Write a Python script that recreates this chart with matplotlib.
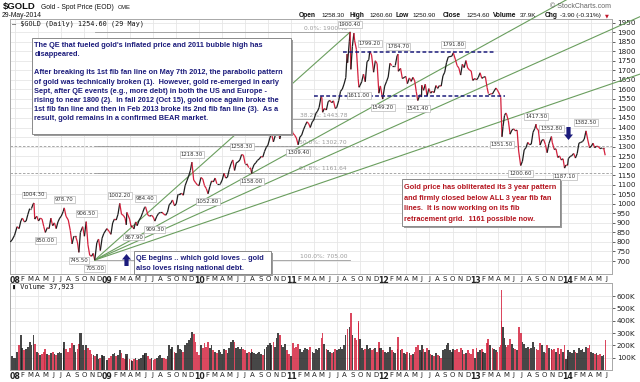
import datetime as dt
import numpy as np
import matplotlib
matplotlib.use("Agg")
from matplotlib import pyplot as plt
import matplotlib.dates as mdates
from matplotlib.collections import LineCollection
from matplotlib.patches import Rectangle, FancyArrow
from matplotlib.transforms import IdentityTransform

W, H = 640, 382

DAYS_07 = "12-14 12-21 12-31".split()
CLOSE_07 = [800, 810, 835]
VOL_07 = [95, 110, 100]

DAYS_08 = ("01-10 01-18 01-25 01-31 02-08 02-15 02-22 02-29 03-07 03-14 03-17 03-20 03-28 "
           "04-04 04-11 04-18 04-25 05-01 05-09 05-16 05-23 05-30 06-06 06-13 06-20 06-27 "
           "07-03 07-11 07-15 07-22 07-31 08-08 08-15 08-22 08-29 09-05 09-11 09-17 09-26 "
           "10-03 10-10 10-17 10-24 10-31 11-07 11-13 11-21 11-28 12-05 12-12 12-19 12-31").split()
CLOSE_08 = [880, 870, 910, 925, 905, 910, 945, 975, 975, 1000, 1004.3, 920, 935,
            910, 925, 920, 880, 850, 875, 870, 925, 885, 900, 870, 905, 925,
            935, 960, 978.7, 935, 915, 860, 790, 830, 830, 800, 745.5, 850, 880,
            830, 906.5, 785, 730, 725, 740, 705, 795, 815, 755, 820, 845, 870]
VOL_08 = [150, 200, 280, 180, 160, 170, 190, 230, 200, 280, 250, 210, 150,
          140, 120, 130, 150, 170, 130, 120, 140, 150, 130, 120, 140, 150,
          140, 180, 230, 170, 150, 180, 220, 200, 150, 170, 210, 300, 200,
          160, 200, 180, 160, 130, 120, 110, 130, 90, 100, 120, 110, 80]

DAYS_09 = ("01-09 01-16 01-23 01-30 02-06 02-13 02-20 02-27 03-06 03-13 03-18 03-20 03-31 "
           "04-06 04-10 04-17 04-24 04-30 05-08 05-15 05-22 05-29 06-02 06-12 06-19 06-26 "
           "07-03 07-09 07-17 07-24 07-31 08-07 08-14 08-21 08-28 09-04 09-11 09-17 09-25 "
           "10-02 10-09 10-16 10-23 10-30 11-06 11-13 11-20 11-27 12-03 12-10 12-18 12-24 12-31").split()
CLOSE_09 = [855, 840, 900, 920, 915, 945, 1002.2, 945, 940, 925, 890, 955, 920,
            880, 885, 867.9, 905, 885, 915, 930, 955, 980, 984.4, 940, 935, 940,
            930, 909.3, 935, 950, 955, 955, 945, 940, 955, 995, 1005, 1020, 990,
            1000, 1050, 1050, 1055, 1045, 1095, 1120, 1145, 1175, 1218.3, 1125, 1110, 1100, 1095]
VOL_09 = [100, 110, 130, 140, 110, 120, 160, 140, 100, 90, 110, 130, 90,
          80, 70, 90, 100, 80, 90, 100, 120, 130, 140, 110, 90, 100,
          80, 90, 100, 110, 120, 100, 100, 90, 110, 200, 170, 190, 150,
          140, 200, 170, 160, 150, 200, 220, 240, 260, 310, 290, 230, 150, 120]

DAYS_10 = ("01-08 01-15 01-22 01-29 02-05 02-12 02-19 02-26 03-05 03-12 03-19 03-26 "
           "04-02 04-09 04-16 04-23 04-30 05-07 05-14 05-21 05-28 06-04 06-11 06-18 06-25 "
           "07-02 07-09 07-16 07-23 07-28 07-30 08-06 08-13 08-20 08-27 09-03 09-10 09-17 09-24 09-30 "
           "10-08 10-14 10-22 10-29 11-05 11-09 11-16 11-23 11-30 12-07 12-14 12-21 12-31").split()
CLOSE_10 = [1138, 1130, 1095, 1080, 1052.8, 1090, 1120, 1115, 1135, 1105, 1105, 1105,
            1125, 1160, 1135, 1140, 1180, 1210, 1230, 1175, 1215, 1220, 1230, 1258.3, 1255,
            1210, 1210, 1190, 1190, 1158, 1180, 1205, 1215, 1228, 1235, 1248, 1245, 1275, 1297, 1307,
            1345, 1370, 1325, 1357, 1395, 1421, 1340, 1375, 1385, 1410, 1395, 1385, 1420]
VOL_10 = [200, 180, 220, 190, 230, 180, 200, 160, 150, 140, 160, 150,
          130, 170, 160, 140, 180, 230, 240, 230, 180, 190, 170, 190, 170,
          160, 140, 150, 140, 170, 150, 140, 130, 140, 150, 130, 120, 170, 190, 200,
          220, 200, 230, 190, 260, 300, 280, 200, 190, 210, 160, 130, 110]

DAYS_11 = ("01-07 01-14 01-21 01-28 02-04 02-11 02-18 02-25 03-04 03-11 03-17 03-25 03-31 "
           "04-08 04-15 04-21 04-29 05-02 05-05 05-12 05-20 05-27 06-03 06-10 06-17 06-24 06-30 "
           "07-08 07-15 07-22 07-29 08-05 08-10 08-12 08-19 08-22 08-25 08-31 09-06 09-09 09-16 "
           "09-23 09-26 09-30 10-07 10-14 10-21 10-28 11-04 11-08 11-15 11-23 11-30 "
           "12-07 12-14 12-20 12-29").split()
CLOSE_11 = [1370, 1360, 1345, 1309.4, 1350, 1360, 1388, 1410, 1430, 1420, 1400, 1430, 1439,
            1474, 1486, 1505, 1563, 1557, 1480, 1500, 1492, 1536, 1542, 1530, 1540, 1500, 1505,
            1542, 1590, 1601, 1628, 1662, 1785, 1740, 1852, 1900.4, 1705, 1825, 1895, 1855, 1810,
            1655, 1611.0, 1620, 1640, 1680, 1640, 1745, 1755, 1799.2, 1780, 1690, 1750,
            1735, 1580, 1618, 1549.2]
VOL_11 = [220, 180, 190, 210, 170, 150, 160, 180, 170, 160, 190, 150, 140,
          170, 160, 180, 230, 260, 300, 210, 170, 160, 150, 140, 150, 170, 160,
          170, 190, 170, 200, 280, 360, 330, 350, 430, 460, 280, 300, 260, 240,
          400, 380, 250, 180, 160, 170, 200, 170, 180, 160, 170, 180,
          150, 230, 180, 160]

DAYS_12 = ("01-06 01-13 01-20 01-27 02-03 02-10 02-17 02-24 02-28 02-29 03-09 03-16 03-23 03-30 "
           "04-05 04-13 04-20 04-27 05-04 05-10 05-16 05-25 05-31 06-01 06-08 06-15 06-22 06-29 "
           "07-06 07-13 07-20 07-27 08-03 08-10 08-17 08-24 08-31 09-07 09-14 09-21 09-28 "
           "10-04 10-12 10-19 10-26 11-02 11-09 11-16 11-23 11-30 12-07 12-14 12-20 12-28").split()
CLOSE_12 = [1617, 1640, 1665, 1737, 1725, 1725, 1725, 1775, 1784.7, 1695, 1710, 1657, 1662, 1668,
            1630, 1660, 1642, 1663, 1645, 1590, 1541.4, 1572, 1560, 1622, 1595, 1627, 1565, 1604,
            1580, 1590, 1583, 1620, 1605, 1620, 1617, 1671, 1690, 1740, 1770, 1772, 1774,
            1791.8, 1758, 1725, 1712, 1675, 1732, 1714, 1751, 1712, 1702, 1696, 1647, 1657]
VOL_12 = [150, 140, 150, 190, 160, 150, 140, 170, 180, 270, 160, 170, 140, 130,
          150, 140, 120, 130, 150, 190, 200, 160, 150, 200, 170, 150, 180, 160,
          130, 120, 110, 140, 120, 110, 100, 160, 170, 200, 220, 160, 150,
          170, 160, 170, 150, 180, 160, 130, 140, 160, 140, 130, 170, 100]

DAYS_13 = ("01-04 01-11 01-18 01-25 01-31 02-08 02-15 02-20 02-28 03-08 03-15 03-22 03-28 "
           "04-05 04-10 04-12 04-15 04-19 04-25 04-30 05-03 05-10 05-17 05-24 05-31 "
           "06-07 06-14 06-20 06-28 07-05 07-12 07-19 07-26 08-02 08-09 08-16 08-23 08-28 08-30 "
           "09-06 09-13 09-20 09-27 10-04 10-11 10-18 10-28 10-31 11-08 11-15 11-22 11-29 "
           "12-06 12-13 12-19 12-24 12-31").split()
CLOSE_13 = [1650, 1662, 1687, 1658, 1663, 1667, 1609, 1578, 1578, 1576, 1592, 1607, 1596,
            1575, 1558, 1476, 1351.5, 1405, 1463, 1476, 1470, 1437, 1365, 1386, 1393,
            1383, 1386, 1277, 1200.6, 1223, 1283, 1294, 1322, 1310, 1313, 1375, 1395, 1417.5, 1396,
            1387, 1308, 1333, 1337, 1311, 1268, 1316, 1352.8, 1323, 1285, 1288, 1243, 1251,
            1230, 1236, 1187.1, 1203, 1202]
VOL_13 = [180, 150, 160, 170, 150, 140, 220, 250, 200, 180, 170, 160, 150,
          190, 200, 400, 650, 350, 260, 200, 190, 200, 250, 210, 180,
          170, 160, 350, 300, 230, 210, 180, 190, 170, 180, 230, 190, 200, 170,
          160, 220, 200, 150, 140, 200, 180, 170, 160, 170, 150, 180, 130,
          170, 150, 200, 90, 110]

DAYS_14 = ("01-03 01-10 01-17 01-24 01-31 02-07 02-14 02-21 02-28 03-07 03-14 03-21 03-28 "
           "04-04 04-11 04-17 04-25 05-02 05-09 05-16 05-23 05-29").split()
CLOSE_14 = [1237, 1248, 1253, 1264, 1240, 1263, 1318, 1322, 1326, 1339, 1382.5, 1335, 1294,
            1302, 1318, 1294, 1302, 1300, 1289, 1293, 1293, 1254.6]
VOL_14 = [160, 150, 140, 160, 150, 140, 180, 160, 170, 150, 190, 180, 200,
          150, 140, 130, 140, 120, 130, 110, 120, 240]

# labelled swing highs / lows
SWING_LABELS = [1004.3, 850.0, 978.7, 745.5, 906.5, 705.0, 1002.2, 867.9, 984.4, 909.3,
                1218.3, 1052.8, 1258.3, 1158.0, 1309.4, 1900.4, 1611.0, 1799.2, 1549.2,
                1784.7, 1541.4, 1791.8, 1351.5, 1200.6, 1417.5, 1352.8, 1187.1, 1382.5]

# fibonacci retracement grid (705.00 low -> 1900.40 high)
FIB_PCT = ["0.0%", "38.2%", "50.0%", "61.8%", "100.0%"]
FIB_PRICE = [1900.40, 1443.78, 1302.70, 1161.64, 705.00]
FIB_EXTENDED = ["50.0%", "61.8%"]

# 3-year trading range drawn in blue
RANGE_LEVELS = [1796, 1567]
RANGE_START = [dt.date(2011, 7, 26), dt.date(2011, 4, 2)]
RANGE_END = [dt.date(2013, 3, 19), dt.date(2013, 4, 28)]

HEADER_KEYS = ["Open", "High", "Low", "Close", "Volume", "Chg"]
HEADER_VALS = ["1258.30", "1260.60", "1250.90", "1254.60", "37.9K", "-3.90 (-0.31%)"]

NOTE_QE = ["The QE that fueled gold's inflated price and 2011 bubble high has",
           "disappeared.",
           "After breaking its 1st fib fan line on May 7th 2012, the parabolic pattern",
           "of gold was technically broken (1).  However, gold re-emerged in early",
           "Sept, after QE events (e.g., more debt) in both the US and Europe -",
           "rising to near 1800 (2).  In fall 2012 (Oct 15), gold once again broke the",
           "1st fib fan line and then in Feb 2013 broke its 2nd fib fan line (3).  As a",
           "result, gold remains in a confirmed BEAR market."]
NOTE_RED = ["Gold price has obliterated its 3 year pattern",
            "and firmly closed below ALL 3 year fib fan",
            "lines.  It is now working on its fib",
            "retracement grid.  1161 possible now."]
NOTE_START = ["QE begins .. which gold loves .. gold",
              "also loves rising national debt."]

RED = "#d3203c"
BLACK = "#1e1e1e"
NAVY = "#1c1c7c"
DARKRED = "#b4141e"
GREEN = "#6a9e5e"
GRID = "#e6e6e6"

dates, closes, vols = [], [], []
for yr, days, cl, vo in [(2007, DAYS_07, CLOSE_07, VOL_07), (2008, DAYS_08, CLOSE_08, VOL_08),
                         (2009, DAYS_09, CLOSE_09, VOL_09), (2010, DAYS_10, CLOSE_10, VOL_10),
                         (2011, DAYS_11, CLOSE_11, VOL_11), (2012, DAYS_12, CLOSE_12, VOL_12),
                         (2013, DAYS_13, CLOSE_13, VOL_13), (2014, DAYS_14, CLOSE_14, VOL_14)]:
    assert len(days) == len(cl) == len(vo), yr
    for d, c, v in zip(days, cl, vo):
        m, dd = map(int, d.split("-"))
        dates.append(dt.date(yr, m, dd))
        closes.append(c)
        vols.append(v)
xs = mdates.date2num(dates)


def fx(x):
    return x / W


def fy(y):
    return 1 - y / H


fig = plt.figure(figsize=(W / 100, H / 100), dpi=100)
fig.patch.set_facecolor("white")

ax = fig.add_axes([fx(10), fy(274), 602 / W, (274 - 19) / H])
axv = fig.add_axes([fx(10), fy(370), 602 / W, (370 - 283) / H])

x_left = mdates.date2num(dt.date(2007, 12, 13))
x_right = mdates.date2num(dt.date(2014, 6, 25))

# month ticks
month_ticks, month_labels = [], []
for yr in range(2008, 2015):
    for m in range(1, 13):
        if yr == 2014 and m > 6:
            break
        month_ticks.append(mdates.date2num(dt.date(yr, m, 1)))
        month_labels.append(f"{yr % 100:02d}" if m == 1 else "JFMAMJJASOND"[m - 1])

for a in (ax, axv):
    a.set_xlim(x_left, x_right)
    a.set_facecolor("white")
    for s in a.spines.values():
        s.set_color("#a8a8a8")
        s.set_linewidth(0.7)
    a.set_xticks(month_ticks)
    a.set_xticklabels(month_labels)
    a.tick_params(axis="x", length=0, pad=1.5, labelsize=5, colors="#222")
    for t in a.get_xticklabels():
        if t.get_text().isdigit():
            t.set_fontweight("bold")
            t.set_fontsize(5.6)
    a.yaxis.tick_right()
    a.tick_params(axis="y", length=2, width=0.5, pad=1.5, labelsize=5.2, colors="#222")
    for i, xt in enumerate(month_ticks):
        if i % 3 == 0:
            a.axvline(xt, color=GRID, lw=0.6, zorder=0)

# price panel
ax.set_ylim(632, 1969)
ax.set_yticks(range(700, 1951, 50))
for yv in range(700, 1951, 50):
    ax.axhline(yv, color=GRID, lw=0.6, zorder=0)

pts = np.column_stack([xs, closes])
segs = np.stack([pts[:-1], pts[1:]], axis=1)
seg_cols = [BLACK if closes[i + 1] >= closes[i] else RED for i in range(len(closes) - 1)]
ax.add_collection(LineCollection(segs, colors=seg_cols, linewidths=0.9, zorder=4))

# fib grid
i_low = closes.index(min(closes))
i_high = closes.index(max(closes))
x_low, x_high = xs[i_low], xs[i_high]
p_low = closes[i_low]
for pct, price in zip(FIB_PCT, FIB_PRICE):
    ax.plot([x_low, x_high], [price, price], color="#9a9a9a", lw=0.6, zorder=2)
    if pct in FIB_EXTENDED:
        ax.plot([x_left, x_right], [price, price], color="#9a9a9a", lw=0.6,
                ls=(0, (3, 2)), zorder=2)
    ax.annotate(f"{pct}: {price:.2f}", (x_high, price), xytext=(-3, 4),
                textcoords="offset pixels", ha="right", va="center",
                fontsize=4.3, color="#9a9a9a", zorder=3)

# fib fan from the low
x_far = mdates.date2num(dt.date(2015, 3, 1))
for price in FIB_PRICE[:4]:
    slope = (price - p_low) / (x_high - x_low)
    x_end = x_high if price == max(closes) else x_far
    ax.plot([x_low, x_end], [p_low, p_low + slope * (x_end - x_low)],
            color=GREEN, lw=0.8, clip_on=False, zorder=3)

# blue trading range
for lvl, s, e in zip(RANGE_LEVELS, RANGE_START, RANGE_END):
    ax.plot([mdates.date2num(s), mdates.date2num(e)], [lvl, lvl], color=NAVY,
            lw=1.1, ls=(0, (2.5, 1.5)), zorder=5)

# swing labels
for v in SWING_LABELS:
    i = closes.index(v)
    prev = closes[i - 1] if i > 0 else v
    nxt = closes[i + 1] if i + 1 < len(closes) else v
    peak = v >= max(prev, nxt)
    ax.annotate(f"{v:.2f}", (xs[i], v), xytext=(0, 8 if peak else -8),
                textcoords="offset pixels", ha="center", va="center",
                fontsize=3.9, color="#333",
                bbox=dict(boxstyle="square,pad=0.18", fc="white", ec="#b8b8b8", lw=0.5),
                zorder=6)

ax.text(fx(12), fy(23.5), "\u2014 $GOLD (Daily) 1254.60 (29 May)", transform=fig.transFigure,
        fontsize=4.9, family=["DejaVu Sans Mono"], va="center", ha="left", color="#111")

# volume panel
vcols = [BLACK if i > 0 and closes[i] >= closes[i - 1] else RED for i in range(len(closes))]
widths = list(np.diff(xs)) + [5]
axv.bar(xs, vols, width=widths, color=vcols, alpha=0.82, lw=0, zorder=2)
axv.set_ylim(0, 706)
axv.set_yticks(range(100, 601, 100))
axv.set_yticklabels([f"{v}K" for v in range(100, 601, 100)])
for yv in range(100, 601, 100):
    axv.axhline(yv, color=GRID, lw=0.6, zorder=0)
fig.text(fx(12), fy(287.5), "\u25ae Volume 37,923", fontsize=4.9,
         family=["DejaVu Sans Mono", "DejaVu Sans"], va="center", ha="left", color="#111")

# header
fig.text(fx(3), fy(7), "$GOLD", fontsize=6.8, fontweight="bold", family="Liberation Sans",
         va="center", color="#111")
fig.text(fx(41), fy(7.5), "Gold - Spot Price (EOD)", fontsize=4.9, family="Liberation Sans",
         va="center", color="#111")
fig.text(fx(118), fy(7.5), "CME", fontsize=4.2, family="Liberation Sans", va="center", color="#111")
fig.text(fx(2), fy(15.5), "29-May-2014", fontsize=4.9, family="Liberation Sans",
         va="center", color="#111")
key_x = [299, 349, 395, 443, 493, 545]
val_x = [321, 369, 412, 466, 520, 560]
for k, v, kx, vx in zip(HEADER_KEYS, HEADER_VALS, key_x, val_x):
    fig.text(fx(kx), fy(15.5), k, fontsize=4.8, fontweight="bold", family="Liberation Sans",
             va="center", color="#111")
    fig.text(fx(vx), fy(15.5), v, fontsize=4.6, family="Liberation Sans", va="center", color="#111")
fig.text(fx(605), fy(15.5), "\u25bc", fontsize=3.6, color="#c0142a", va="center")
fig.text(fx(611), fy(6.5), "\u00a9 StockCharts.com", fontsize=5, family="Liberation Sans",
         va="center", ha="right", color="#666")


def note_box(x0, y0, x1, y1, lines, ys, xt, color):
    fig.patches.append(Rectangle((fx(x0 + 2), fy(y1 + 2)), (x1 - x0) / W, (y1 - y0) / H,
                                 transform=fig.transFigure, fc="#9c9c9c", ec="none",
                                 zorder=5, figure=fig))
    fig.patches.append(Rectangle((fx(x0), fy(y1)), (x1 - x0) / W, (y1 - y0) / H,
                                 transform=fig.transFigure, fc="white", ec="#8a8a8a",
                                 lw=0.7, zorder=6, figure=fig))
    for line, yy in zip(lines, ys):
        fig.text(fx(xt), fy(yy), line, fontsize=5.3, fontweight="bold",
                 family="Liberation Sans", color=color, va="center", ha="left", zorder=7)


note_box(32, 38, 291, 134, NOTE_QE,
         [45.5, 54.7, 73.0, 82.1, 91.3, 100.4, 109.6, 118.7, 127.9], 34.5, NAVY)
note_box(402, 179, 560, 226, NOTE_RED, [187.5, 198.2, 208.8, 219.4], 404, DARKRED)
note_box(134, 251, 271, 274, NOTE_START, [258.3, 268.5], 136.5, NAVY)

# arrows
for x0, ytail, ytip in [(126.5, 266, 254), (568.5, 127, 140)]:
    fig.patches.append(FancyArrow(x0, H - ytail, 0, -(ytip - ytail), width=4.2,
                                  head_width=9, head_length=5.5, length_includes_head=True,
                                  transform=IdentityTransform(), fc=NAVY, ec=NAVY, lw=0,
                                  zorder=7, figure=fig))

fig.savefig("out.png", dpi=100)
